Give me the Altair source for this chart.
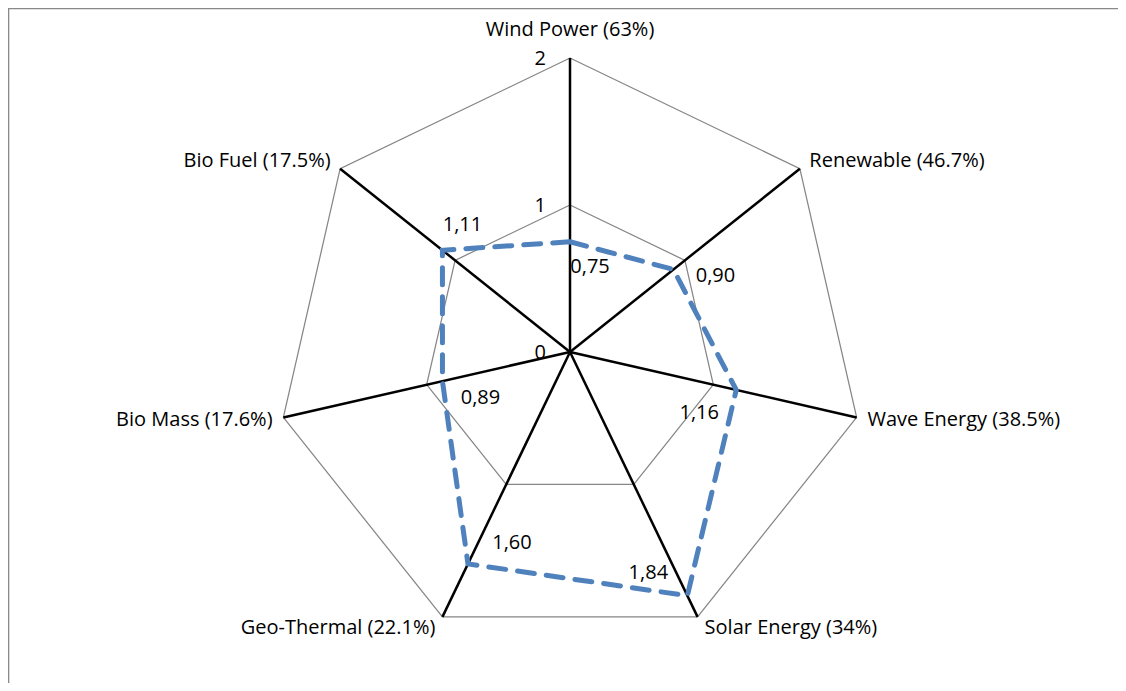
import math
import altair as alt
import pandas as pd

# ---- data ----
categories = ["Wind Power (63%)", "Renewable (46.7%)", "Wave Energy (38.5%)",
              "Solar Energy (34%)", "Geo-Thermal (22.1%)", "Bio Mass (17.6%)",
              "Bio Fuel (17.5%)"]
values = [0.75, 0.90, 1.16, 1.84, 1.60, 0.89, 1.11]
ticks = [0, 1, 2]
rings = [1, 2]
r_max = 2

# ---- styling / layout ----
W, H = 1110, 675
CX, CY = 562, 344          # centre of the radar within the plot area (px)
UNIT = 147                 # px per value unit
FONT = "Open Sans"
FS = 20
BLUE = "#4F81BD"
GRID = "#868686"
FRAME = "#898989"
value_label_offsets = [(20, 25), (42, 6), (-37, 23), (-39, -23),
                       (44, -21), (38, 17), (20, -25)]

n = len(categories)
ang = [2 * math.pi * i / n for i in range(n)]

xs = alt.Scale(domain=[-CX / UNIT, (W - CX) / UNIT], range=[0, W], nice=False, zero=False)
ys = alt.Scale(domain=[-(H - CY) / UNIT, CY / UNIT], range=[H, 0], nice=False, zero=False)


def X(f):
    return alt.X(f, type="quantitative", scale=xs, axis=None)


def Y(f):
    return alt.Y(f, type="quantitative", scale=ys, axis=None)


grid_rows = []
for r in rings:
    for k in range(n + 1):
        a = ang[k % n]
        grid_rows.append({"ring": r, "order": k, "x": r * math.sin(a), "y": r * math.cos(a)})
grid_df = pd.DataFrame(grid_rows)

spoke_df = pd.DataFrame({
    "cat": categories,
    "x0": [0.0] * n, "y0": [0.0] * n,
    "x": [r_max * math.sin(a) for a in ang],
    "y": [r_max * math.cos(a) for a in ang],
})

ser_rows = []
for k in range(n + 1):
    a = ang[k % n]
    v = values[k % n]
    ser_rows.append({"order": k, "x": v * math.sin(a), "y": v * math.cos(a),
                     "label": f"{v:.2f}".replace(".", ",")})
ser_df = pd.DataFrame(ser_rows)

cat_rows = []
for c, a in zip(categories, ang):
    s = math.sin(a)
    side = "left" if s > 0.1 else ("right" if s < -0.1 else "center")
    cat_rows.append({"cat": c, "side": side,
                     "x": r_max * s + (7 / UNIT) * s,
                     "y": r_max * math.cos(a) + (12 / UNIT) * math.cos(a)})
cat_df = pd.DataFrame(cat_rows)

tick_df = pd.DataFrame({"x": [0.0] * len(ticks), "y": [float(t) for t in ticks],
                        "label": [str(t) for t in ticks]})
frame_df = pd.DataFrame({"k": [0]})

layers = []

# chart frame: top and left edges as thin filled bars
layers.append(alt.Chart(frame_df).mark_rect(fill=FRAME, strokeWidth=0).encode(
    x=alt.value(0), x2=alt.value(1.3), y=alt.value(0), y2=alt.value(H)))
layers.append(alt.Chart(frame_df).mark_rect(fill=FRAME, strokeWidth=0).encode(
    x=alt.value(0), x2=alt.value(W), y=alt.value(0), y2=alt.value(1.3)))

layers.append(alt.Chart(grid_df).mark_line(color=GRID, strokeWidth=1.25).encode(
    x=X("x"), y=Y("y"), detail="ring:N", order="order:Q"))

layers.append(alt.Chart(spoke_df).mark_rule(color="black", strokeWidth=2.5).encode(
    x=X("x0"), y=Y("y0"), x2="x", y2="y"))

layers.append(alt.Chart(ser_df).mark_line(color=BLUE, strokeWidth=5,
                                          strokeDash=[17, 12], strokeCap="round").encode(
    x=X("x"), y=Y("y"), order="order:Q"))

layers.append(alt.Chart(tick_df).mark_text(font=FONT, fontSize=FS, color="black",
                                           align="right", baseline="middle", dx=-24, dy=1).encode(
    x=X("x"), y=Y("y"), text="label:N"))

for side, dx, dy in [("left", 4, 0), ("right", -4, 0), ("center", 0, -16)]:
    layers.append(alt.Chart(cat_df).transform_filter(alt.datum.side == side).mark_text(
        font=FONT, fontSize=FS, color="black", align=side, baseline="middle", dx=dx, dy=dy
    ).encode(x=X("x"), y=Y("y"), text="cat:N"))

for i, (dx, dy) in enumerate(value_label_offsets):
    layers.append(alt.Chart(ser_df).transform_filter(alt.datum.order == i).mark_text(
        font=FONT, fontSize=FS, color="black", align="center", baseline="middle", dx=dx, dy=dy
    ).encode(x=X("x"), y=Y("y"), text="label:N"))

chart = alt.layer(*layers).properties(
    width=W, height=H, padding=0, autosize=alt.AutoSizeParams(type="none"),
    background="white"
).configure_view(strokeWidth=0, stroke="transparent")

chart.save("out.html", embed_options={"renderer": "svg", "actions": False})
